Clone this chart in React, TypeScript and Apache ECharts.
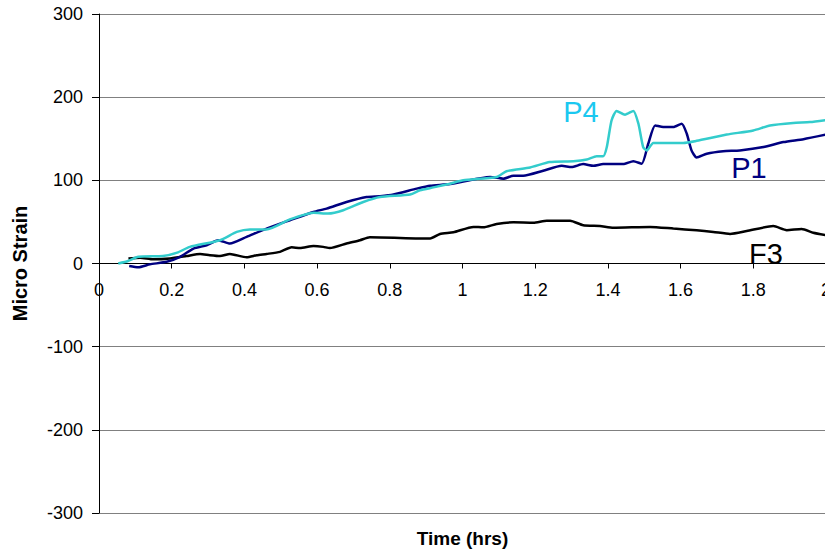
import React, { useEffect, useRef } from "react";
import * as echarts from "echarts";

const xTicks = { min: 0, max: 2, interval: 0.2 };
const yTicks = { min: -300, max: 300, interval: 100 };

const p4Data: number[][] = [
  [0.053, 0], [0.08, 3], [0.108, 8], [0.176, 9], [0.215, 13], [0.25, 20], [0.333, 28],
  [0.379, 38], [0.415, 41], [0.461, 41], [0.525, 53], [0.59, 61], [0.63, 60], [0.672, 64],
  [0.727, 74], [0.773, 80], [0.856, 83], [0.883, 88], [0.92, 91.5], [0.966, 96], [1.002, 100],
  [1.094, 104], [1.121, 111], [1.186, 115.5], [1.24, 122], [1.305, 123], [1.342, 125],
  [1.369, 129], [1.387, 129], [1.397, 140], [1.41, 172], [1.424, 183.5], [1.447, 179],
  [1.47, 183.5], [1.484, 168], [1.497, 140], [1.507, 136], [1.525, 145], [1.607, 145],
  [1.644, 147.5], [1.727, 155], [1.8, 160], [1.846, 166], [1.91, 169], [1.956, 170], [2, 172.5],
];

const p1Data: number[][] = [
  [0.083, -3], [0.108, -4.5], [0.14, -1], [0.186, 2], [0.223, 8], [0.26, 18], [0.296, 22],
  [0.328, 28], [0.36, 24], [0.406, 32], [0.461, 42], [0.525, 52], [0.59, 62], [0.626, 66],
  [0.681, 74], [0.736, 80], [0.773, 81], [0.81, 83], [0.874, 90], [0.911, 93.5], [0.966, 95.5],
  [1.076, 104], [1.112, 102], [1.14, 105.5], [1.167, 105.5], [1.222, 111.5], [1.273, 117.5],
  [1.3, 116], [1.332, 119.5], [1.36, 117.5], [1.387, 119.5], [1.442, 119.5], [1.47, 123],
  [1.493, 120], [1.511, 144], [1.53, 166], [1.552, 164], [1.58, 164], [1.603, 168],
  [1.617, 156], [1.63, 136], [1.644, 127.5], [1.672, 132], [1.717, 135], [1.763, 136],
  [1.828, 140], [1.883, 146], [1.938, 149.5], [2, 155],
];

const f3Data: number[][] = [
  [0.081, 6], [0.113, 7], [0.149, 5], [0.195, 6], [0.241, 9], [0.278, 11.5], [0.305, 10],
  [0.333, 9], [0.36, 11.5], [0.406, 7.5], [0.434, 10], [0.461, 11.5], [0.498, 14], [0.53, 19.5],
  [0.553, 18.5], [0.59, 21], [0.617, 20], [0.635, 18.5], [0.681, 24], [0.718, 28], [0.745, 31.5],
  [0.911, 30], [0.938, 35.5], [0.975, 37.5], [1.03, 44], [1.057, 43.5], [1.094, 47.5],
  [1.14, 49.5], [1.195, 49], [1.232, 51.5], [1.296, 51.5], [1.332, 46], [1.378, 45],
  [1.415, 43], [1.516, 44], [1.58, 42], [1.644, 40], [1.69, 38], [1.736, 35.5], [1.782, 39],
  [1.855, 45], [1.892, 40], [1.933, 41.5], [1.965, 37], [2, 34],
];

const seriesNames = ["P4", "P1", "F3"];
const seriesColors = ["#33CCCC", "#000080", "#000000"];

const FONT = "'Liberation Sans', Arial, sans-serif";

export default function App() {
  const ref = useRef<HTMLDivElement>(null);
  useEffect(() => {
    if (!ref.current) return;
    const chart = echarts.init(ref.current, undefined, { renderer: "svg" });
    const datasets = [p4Data, p1Data, f3Data];
    chart.setOption({
      animation: false,
      backgroundColor: "#ffffff",
      grid: { left: 99, top: 14, width: 727, height: 499, outerBoundsMode: "none", containLabel: false },
      xAxis: {
        type: "value",
        min: xTicks.min,
        max: xTicks.max,
        interval: xTicks.interval,
        offset: -249.5,
        name: "Time (hrs)",
        nameLocation: "middle",
        nameGap: 265,
        nameMoveOverlap: false,
        nameTextStyle: { fontFamily: FONT, fontSize: 19, fontWeight: "bold", color: "#000" },
        axisLine: { onZero: false, lineStyle: { color: "#000", width: 1 } },
        axisTick: { show: true, length: 5, lineStyle: { color: "#000" } },
        axisLabel: {
          margin: 17,
          fontFamily: FONT,
          fontSize: 18,
          color: "#000",
          showMaxLabel: true,
          showMinLabel: true,
          hideOverlap: false,
          formatter: (v: number) => String(Math.round(v * 10) / 10),
        },
        splitLine: { show: false },
      },
      yAxis: {
        type: "value",
        min: yTicks.min,
        max: yTicks.max,
        interval: yTicks.interval,
        name: "Micro Strain",
        nameLocation: "middle",
        nameGap: 69,
        nameTextStyle: { fontFamily: FONT, fontSize: 20, fontWeight: "bold", color: "#000" },
        axisLine: { show: true, onZero: false, lineStyle: { color: "#000", width: 1 } },
        axisTick: { show: true, length: 7, lineStyle: { color: "#000" } },
        axisLabel: { margin: 16, fontFamily: FONT, fontSize: 18, color: "#000" },
        splitLine: { show: true, lineStyle: { color: "#808080", width: 1 } },
      },
      series: datasets.map((d, i) => ({
        name: seriesNames[i],
        type: "line",
        data: d,
        showSymbol: false,
        smooth: 0.2,
        lineStyle: { color: seriesColors[i], width: 2.5 },
        itemStyle: { color: seriesColors[i] },
        z: 3 - i,
      })),
      graphic: [
        {
          type: "text",
          x: 581,
          y: 112,
          style: {
            text: "P4",
            fill: "#1BC8F0",
            font: `29px ${FONT}`,
            textAlign: "center",
            textVerticalAlign: "middle",
          },
        },
        {
          type: "text",
          x: 749,
          y: 168,
          style: {
            text: "P1",
            fill: "#000080",
            font: `29px ${FONT}`,
            textAlign: "center",
            textVerticalAlign: "middle",
          },
        },
        {
          type: "text",
          x: 766,
          y: 254,
          style: {
            text: "F3",
            fill: "#000000",
            font: `29px ${FONT}`,
            textAlign: "center",
            textVerticalAlign: "middle",
          },
        },
      ],
    });
    return () => chart.dispose();
  }, []);
  return (
    <div
      ref={ref}
      style={{ position: "fixed", left: 0, top: 0, width: 825, height: 552, background: "#fff" }}
    />
  );
}
